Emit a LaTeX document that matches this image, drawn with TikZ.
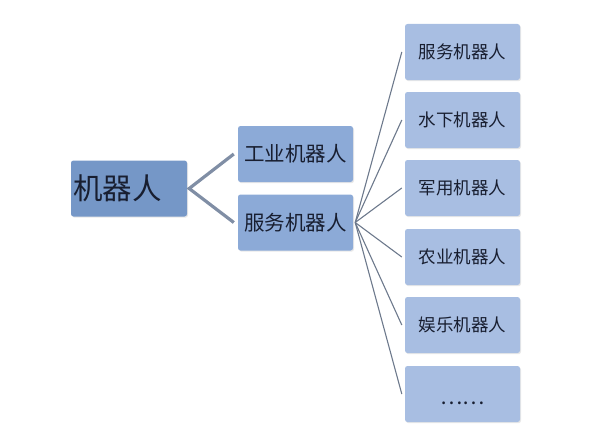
\documentclass[tikz,border=0pt]{standalone}
\usepackage{fontspec}
\setmainfont{Noto Sans CJK SC}
\usetikzlibrary{positioning,shadows}
\definecolor{rootblue}{RGB}{117,151,199}
\definecolor{midblue}{RGB}{140,170,215}
\definecolor{leafblue}{RGB}{168,190,226}
\definecolor{inkblue}{RGB}{24,30,48}
\definecolor{linkgray}{RGB}{128,142,165}

\begin{document}
\begin{tikzpicture}[x=1pt,y=-1pt]
\tikzset{box/.style={draw=none,rounded corners=2.5pt,inner sep=0pt,minimum width=115pt,minimum height=56pt,text=inkblue,
  drop shadow={opacity=0.18,shadow xshift=1pt,shadow yshift=-1.2pt}}}
\tikzset{rootbox/.style={box,fill=rootblue,minimum width=116pt}}
\tikzset{midbox/.style={box,fill=midblue,font=\fontsize{20.5}{22}\selectfont}}
\tikzset{leafbox/.style={box,fill=leafblue,font=\fontsize{17.5}{19}\selectfont}}
\tikzset{thicklink/.style={draw=linkgray,line width=3.2pt}}
\tikzset{thinlink/.style={draw=linkgray!85!black,line width=1.1pt}}
\useasboundingbox (0,0) rectangle (596,444);
% root
\node[rootbox] (robot) at (129,188.5) {};
\node[anchor=west,inner sep=0pt,text=inkblue,font=\fontsize{29.5}{30}\selectfont] (robot-text) at ([xshift=2pt]robot.west) {机器人};
% first level
\node[midbox] (industrial) at (295.5,154) {工业机器人};
\node[midbox] (service) at (295.5,222.5) {服务机器人};
% second level
\node[leafbox] (leaf-service) at (462.5,52) {服务机器人};
\node[leafbox] (underwater) at (462.5,120) {水下机器人};
\node[leafbox] (military) at (462.5,188) {军用机器人};
\node[leafbox] (farm) at (462.5,257) {农业机器人};
\node[leafbox] (fun) at (462.5,325) {娱乐机器人};
\node[leafbox] (more) at (462.5,394) {};
\node[inner sep=0pt,text=inkblue,font=\fontsize{21}{22}\selectfont] (more-text) at ([yshift=-9pt]more.center) {……};
% links
\draw[thicklink] ([xshift=-4pt]industrial.west) -- ([xshift=2pt]robot.east) -- ([xshift=-4pt]service.west);
\foreach \leaf in {leaf-service,underwater,military,farm,fun,more}
  \draw[thinlink] ([xshift=2pt]service.east) -- ([xshift=-3pt]\leaf.west);
\end{tikzpicture}
\end{document}
